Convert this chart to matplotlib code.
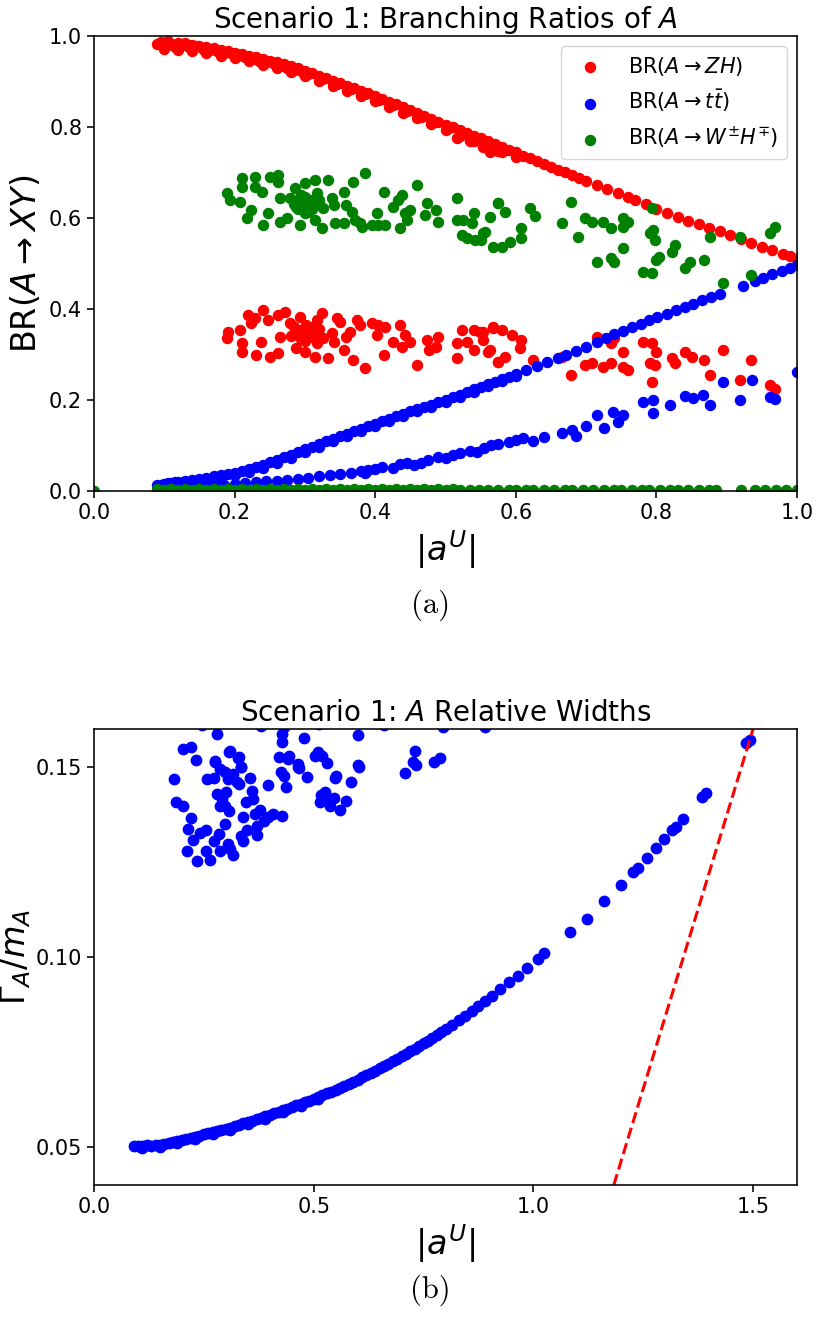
import matplotlib
matplotlib.use("Agg")
import matplotlib.pyplot as plt
import numpy as np

# ---- panel (a): branching ratios ----
zh_main = [
    (0.090, 0.982), (0.095, 0.986), (0.100, 0.979), (0.105, 0.988), (0.110, 0.983), (0.115, 0.976),
    (0.120, 0.985), (0.125, 0.980), (0.130, 0.984), (0.135, 0.975), (0.140, 0.981), (0.145, 0.977),
    (0.150, 0.978), (0.155, 0.972), (0.160, 0.975), (0.165, 0.970), (0.170, 0.973), (0.175, 0.966),
    (0.180, 0.970), (0.185, 0.963), (0.190, 0.967), (0.195, 0.962), (0.200, 0.963), (0.205, 0.957),
    (0.210, 0.960), (0.215, 0.953), (0.220, 0.956), (0.225, 0.950), (0.230, 0.953), (0.235, 0.946),
    (0.240, 0.950), (0.245, 0.942), (0.250, 0.946), (0.255, 0.940), (0.260, 0.942), (0.265, 0.934),
    (0.270, 0.938), (0.275, 0.930), (0.280, 0.933), (0.285, 0.926), (0.290, 0.929), (0.295, 0.922),
    (0.300, 0.924), (0.305, 0.917), (0.310, 0.919), (0.320, 0.912), (0.325, 0.906), (0.330, 0.908),
    (0.340, 0.902), (0.345, 0.895), (0.350, 0.897), (0.360, 0.890), (0.365, 0.884), (0.370, 0.886),
    (0.380, 0.879), (0.385, 0.872), (0.390, 0.874), (0.400, 0.867), (0.405, 0.860), (0.410, 0.862),
    (0.420, 0.855), (0.425, 0.848), (0.430, 0.850), (0.440, 0.843), (0.445, 0.836), (0.450, 0.837),
    (0.460, 0.830), (0.465, 0.823), (0.470, 0.824), (0.480, 0.818), (0.485, 0.811), (0.490, 0.812),
    (0.500, 0.805), (0.505, 0.798), (0.510, 0.799), (0.520, 0.793), (0.525, 0.786), (0.530, 0.787),
    (0.540, 0.781), (0.545, 0.774), (0.550, 0.775), (0.560, 0.769), (0.565, 0.762), (0.570, 0.762),
    (0.580, 0.756), (0.585, 0.749), (0.590, 0.750), (0.600, 0.744), (0.610, 0.737), (0.620, 0.731),
    (0.630, 0.725), (0.640, 0.718), (0.650, 0.712), (0.660, 0.706), (0.670, 0.700), (0.680, 0.694),
    (0.690, 0.688), (0.700, 0.682), (0.715, 0.673), (0.730, 0.664), (0.745, 0.655), (0.760, 0.645),
    (0.770, 0.639), (0.785, 0.630), (0.800, 0.620), (0.815, 0.611), (0.830, 0.602), (0.845, 0.594),
    (0.860, 0.587), (0.875, 0.579), (0.890, 0.571), (0.905, 0.562), (0.920, 0.553), (0.935, 0.545),
    (0.950, 0.537), (0.965, 0.529), (0.980, 0.521), (0.990, 0.516), (1.000, 0.510),
    (0.516, 0.775), (0.535, 0.770), (0.553, 0.757), (0.563, 0.745), (0.575, 0.748),
]
zh_edge = [
    (0.100, 0.972), (0.120, 0.970), (0.140, 0.967), (0.160, 0.963), (0.180, 0.957), (0.200, 0.951),
    (0.220, 0.944), (0.240, 0.937), (0.260, 0.929), (0.280, 0.921), (0.300, 0.912), (0.320, 0.902),
    (0.340, 0.891), (0.360, 0.879), (0.380, 0.868), (0.400, 0.856), (0.420, 0.844), (0.440, 0.831),
    (0.460, 0.819), (0.480, 0.806), (0.500, 0.793), (0.520, 0.781), (0.540, 0.769), (0.560, 0.757),
    (0.580, 0.745), (0.600, 0.733),
]
zh_low = [
    (0.191, 0.350), (0.189, 0.336), (0.208, 0.354), (0.210, 0.325), (0.210, 0.306), (0.219, 0.387),
    (0.224, 0.369), (0.229, 0.380), (0.231, 0.299), (0.238, 0.328), (0.241, 0.398), (0.248, 0.376),
    (0.250, 0.295), (0.262, 0.303), (0.265, 0.339), (0.262, 0.387), (0.272, 0.394), (0.279, 0.369),
    (0.286, 0.350), (0.288, 0.314), (0.293, 0.383), (0.295, 0.354), (0.302, 0.365), (0.300, 0.306),
    (0.307, 0.339), (0.312, 0.354), (0.314, 0.295), (0.317, 0.376), (0.317, 0.325), (0.324, 0.391),
    (0.326, 0.336), (0.333, 0.292), (0.338, 0.347), (0.341, 0.328), (0.345, 0.380), (0.350, 0.372),
    (0.355, 0.310), (0.359, 0.339), (0.364, 0.350), (0.369, 0.288), (0.374, 0.376), (0.378, 0.365),
    (0.385, 0.270), (0.395, 0.369), (0.402, 0.343), (0.404, 0.365), (0.412, 0.299), (0.414, 0.361),
    (0.426, 0.328), (0.435, 0.365), (0.438, 0.317), (0.442, 0.343), (0.450, 0.328), (0.459, 0.277),
    (0.473, 0.332), (0.476, 0.310), (0.487, 0.317), (0.490, 0.339), (0.516, 0.325), (0.516, 0.292),
    (0.523, 0.354), (0.530, 0.328), (0.540, 0.310), (0.540, 0.354), (0.549, 0.350), (0.554, 0.332),
    (0.563, 0.310), (0.568, 0.358), (0.575, 0.284), (0.285, 0.360), (0.290, 0.345), (0.300, 0.350),
    (0.305, 0.345), (0.310, 0.360), (0.295, 0.335), (0.300, 0.330), (0.315, 0.340), (0.320, 0.355),
    (0.280, 0.340), (0.554, 0.350), (0.568, 0.361), (0.580, 0.354), (0.594, 0.343), (0.608, 0.332),
    (0.606, 0.314), (0.561, 0.306), (0.575, 0.284), (0.585, 0.295), (0.625, 0.288), (0.665, 0.295),
    (0.679, 0.255), (0.698, 0.277), (0.708, 0.281), (0.715, 0.339), (0.724, 0.273), (0.736, 0.281),
    (0.736, 0.325), (0.739, 0.336), (0.753, 0.306), (0.753, 0.273), (0.760, 0.266), (0.781, 0.328),
    (0.793, 0.325), (0.800, 0.306), (0.791, 0.281), (0.793, 0.240), (0.798, 0.277), (0.822, 0.292),
    (0.826, 0.281), (0.841, 0.306), (0.850, 0.295), (0.867, 0.288), (0.876, 0.255), (0.895, 0.310),
    (0.919, 0.244), (0.935, 0.288), (0.962, 0.233), (0.969, 0.224),
]
tt_main = [
    (0.090, 0.013), (0.095, 0.014), (0.100, 0.016), (0.105, 0.017), (0.110, 0.018), (0.115, 0.019),
    (0.120, 0.020), (0.130, 0.022), (0.140, 0.024), (0.150, 0.027), (0.160, 0.029), (0.170, 0.032),
    (0.180, 0.034), (0.190, 0.037), (0.200, 0.040), (0.210, 0.044), (0.220, 0.048), (0.230, 0.052),
    (0.240, 0.057), (0.250, 0.063), (0.260, 0.068), (0.270, 0.074), (0.280, 0.080), (0.290, 0.086),
    (0.300, 0.092), (0.310, 0.097), (0.320, 0.103), (0.330, 0.109), (0.340, 0.114), (0.350, 0.120),
    (0.360, 0.126), (0.370, 0.131), (0.380, 0.137), (0.390, 0.142), (0.400, 0.148), (0.410, 0.153),
    (0.420, 0.159), (0.430, 0.164), (0.440, 0.170), (0.450, 0.175), (0.460, 0.180), (0.470, 0.185),
    (0.480, 0.190), (0.490, 0.195), (0.500, 0.200), (0.510, 0.206), (0.520, 0.211), (0.530, 0.217),
    (0.540, 0.223), (0.550, 0.229), (0.560, 0.235), (0.570, 0.240), (0.580, 0.246), (0.590, 0.251),
    (0.600, 0.257), (0.615, 0.266), (0.630, 0.274), (0.645, 0.283), (0.660, 0.292), (0.672, 0.298),
    (0.685, 0.307), (0.700, 0.317), (0.715, 0.327), (0.728, 0.336), (0.740, 0.344), (0.752, 0.351),
    (0.765, 0.360), (0.778, 0.367), (0.790, 0.375), (0.801, 0.382), (0.815, 0.390), (0.828, 0.398),
    (0.840, 0.405), (0.852, 0.412), (0.865, 0.419), (0.878, 0.426), (0.890, 0.432), (0.923, 0.450),
    (0.940, 0.461), (0.952, 0.468), (0.965, 0.476), (0.978, 0.484), (0.990, 0.491), (1.000, 0.497),
]
tt_edge = [
    (0.100, 0.010), (0.120, 0.014), (0.140, 0.019), (0.160, 0.024), (0.180, 0.029), (0.200, 0.034),
    (0.220, 0.041), (0.240, 0.050), (0.260, 0.061), (0.280, 0.073), (0.300, 0.085), (0.320, 0.097),
    (0.340, 0.109), (0.360, 0.120), (0.380, 0.131), (0.400, 0.142), (0.420, 0.153), (0.440, 0.164),
    (0.460, 0.175), (0.480, 0.185), (0.500, 0.195), (0.520, 0.206), (0.540, 0.218), (0.560, 0.230),
    (0.580, 0.241), (0.600, 0.252),
]
tt_low = [
    (0.095, 0.005), (0.110, 0.006), (0.125, 0.008), (0.140, 0.009), (0.155, 0.011), (0.170, 0.012),
    (0.185, 0.014), (0.200, 0.016), (0.215, 0.017), (0.230, 0.019), (0.245, 0.021), (0.260, 0.022),
    (0.275, 0.025), (0.290, 0.027), (0.305, 0.029), (0.320, 0.032), (0.335, 0.035), (0.350, 0.037),
    (0.365, 0.040), (0.380, 0.043), (0.390, 0.046), (0.385, 0.040), (0.400, 0.048), (0.410, 0.052),
    (0.425, 0.050), (0.435, 0.060), (0.445, 0.062), (0.455, 0.057), (0.465, 0.062), (0.475, 0.068),
    (0.490, 0.075), (0.500, 0.072), (0.510, 0.078), (0.520, 0.083), (0.535, 0.088), (0.545, 0.085),
    (0.555, 0.095), (0.565, 0.100), (0.575, 0.104), (0.590, 0.108), (0.600, 0.112), (0.610, 0.116),
    (0.625, 0.109), (0.640, 0.118), (0.665, 0.127), (0.680, 0.135), (0.685, 0.120), (0.700, 0.143),
    (0.715, 0.167), (0.725, 0.138), (0.738, 0.174), (0.752, 0.167), (0.745, 0.152), (0.781, 0.196),
    (0.795, 0.200), (0.795, 0.171), (0.819, 0.189), (0.841, 0.209), (0.852, 0.204), (0.866, 0.211),
    (0.876, 0.189), (0.895, 0.240), (0.919, 0.200), (0.936, 0.244), (0.962, 0.207), (0.969, 0.202),
    (1.000, 0.261),
]
wh_high = [
    (0.189, 0.654), (0.193, 0.640), (0.208, 0.636), (0.210, 0.687), (0.210, 0.669), (0.217, 0.599),
    (0.224, 0.618), (0.229, 0.691), (0.229, 0.669), (0.239, 0.658), (0.241, 0.585), (0.248, 0.610),
    (0.250, 0.691), (0.262, 0.695), (0.262, 0.680), (0.265, 0.643), (0.265, 0.592), (0.274, 0.599),
    (0.279, 0.643), (0.286, 0.665), (0.288, 0.625), (0.293, 0.585), (0.295, 0.651), (0.300, 0.676),
    (0.302, 0.632), (0.305, 0.614), (0.310, 0.640), (0.314, 0.684), (0.317, 0.654), (0.314, 0.596),
    (0.324, 0.577), (0.326, 0.621), (0.333, 0.684), (0.338, 0.643), (0.341, 0.629), (0.343, 0.588),
    (0.355, 0.588), (0.355, 0.658), (0.359, 0.629), (0.367, 0.614), (0.369, 0.680), (0.371, 0.596),
    (0.378, 0.588), (0.381, 0.581), (0.385, 0.698), (0.395, 0.585), (0.402, 0.610), (0.404, 0.585),
    (0.412, 0.658), (0.414, 0.585), (0.426, 0.625), (0.433, 0.640), (0.435, 0.577), (0.438, 0.651),
    (0.442, 0.610), (0.445, 0.596), (0.450, 0.618), (0.459, 0.673), (0.471, 0.607), (0.473, 0.632),
    (0.487, 0.618), (0.490, 0.592), (0.516, 0.643), (0.516, 0.596), (0.523, 0.563), (0.525, 0.596),
    (0.530, 0.555), (0.537, 0.588), (0.540, 0.610), (0.542, 0.552), (0.551, 0.552), (0.556, 0.570),
    (0.563, 0.603), (0.568, 0.537), (0.575, 0.632), (0.290, 0.640), (0.295, 0.630), (0.300, 0.645),
    (0.305, 0.625), (0.310, 0.620), (0.290, 0.620), (0.285, 0.630), (0.300, 0.610), (0.315, 0.635),
    (0.320, 0.640), (0.554, 0.566), (0.575, 0.632), (0.585, 0.614), (0.580, 0.537), (0.592, 0.548),
    (0.608, 0.577), (0.608, 0.555), (0.620, 0.621), (0.627, 0.604), (0.665, 0.588), (0.679, 0.636),
    (0.689, 0.559), (0.698, 0.599), (0.708, 0.592), (0.715, 0.504), (0.724, 0.592), (0.736, 0.577),
    (0.736, 0.511), (0.739, 0.504), (0.753, 0.599), (0.753, 0.581), (0.760, 0.592), (0.753, 0.533),
    (0.781, 0.482), (0.793, 0.478), (0.791, 0.566), (0.795, 0.574), (0.798, 0.552), (0.793, 0.621),
    (0.800, 0.508), (0.803, 0.515), (0.822, 0.526), (0.826, 0.541), (0.841, 0.489), (0.848, 0.504),
    (0.867, 0.508), (0.876, 0.559), (0.895, 0.456), (0.919, 0.559), (0.935, 0.475), (0.962, 0.566),
    (0.969, 0.581),
]
wh_zero_x = [0.0, 0.09, 0.10, 0.11, 0.12, 0.13, 0.14, 0.15, 0.16, 0.17, 0.18, 0.19, 0.20, 0.21, 0.22,
             0.23, 0.24, 0.25, 0.26, 0.27, 0.28, 0.29, 0.30, 0.31, 0.32, 0.33, 0.34, 0.35, 0.36, 0.37,
             0.38, 0.39, 0.40, 0.41, 0.42, 0.43, 0.44, 0.45, 0.46, 0.47, 0.48, 0.49, 0.50, 0.51, 0.52,
             0.535, 0.548, 0.56, 0.575, 0.59, 0.60, 0.615, 0.625, 0.64, 0.655, 0.67, 0.68, 0.695, 0.71,
             0.725, 0.74, 0.75, 0.765, 0.78, 0.79, 0.805, 0.82, 0.83, 0.845, 0.86, 0.875, 0.885, 0.92,
             0.94, 0.955, 0.97, 0.985, 1.0]
wh_zero_y = [0.0, 0.004, 0.003, 0.004, 0.003, 0.004, 0.003, 0.004, 0.003, 0.004, 0.003, 0.004, 0.003,
             0.004, 0.003, 0.004, 0.003, 0.004, 0.003, 0.004, 0.003, 0.004, 0.003, 0.004, 0.003, 0.004,
             0.003, 0.004, 0.003, 0.004, 0.003, 0.004, 0.003, 0.004, 0.003, 0.004, 0.003, 0.004, 0.003,
             0.004, 0.003, 0.004, 0.003, 0.004, 0.003, 0.003, 0.003, 0.003, 0.003, 0.003, 0.003, 0.003,
             0.003, 0.003, 0.003, 0.003, 0.003, 0.003, 0.003, 0.003, 0.003, 0.003, 0.003, 0.003, 0.003,
             0.003, 0.003, 0.003, 0.003, 0.003, 0.003, 0.003, 0.003, 0.003, 0.003, 0.003, 0.003, 0.003]

# ---- panel (b): relative widths ----
width_curve = [
    (0.090, 0.0502), (0.100, 0.0503), (0.110, 0.0502), (0.120, 0.0504), (0.130, 0.0503), (0.140, 0.0505),
    (0.150, 0.0506), (0.160, 0.0508), (0.170, 0.0510), (0.180, 0.0513), (0.190, 0.0516), (0.200, 0.0519),
    (0.210, 0.0521), (0.220, 0.0524), (0.230, 0.0527), (0.240, 0.0530), (0.250, 0.0533), (0.260, 0.0536),
    (0.270, 0.0539), (0.280, 0.0542), (0.290, 0.0545), (0.300, 0.0548), (0.310, 0.0551), (0.320, 0.0555),
    (0.330, 0.0558), (0.340, 0.0562), (0.350, 0.0566), (0.360, 0.0569), (0.370, 0.0573), (0.380, 0.0577),
    (0.390, 0.0581), (0.400, 0.0585), (0.410, 0.0589), (0.420, 0.0593), (0.430, 0.0597), (0.440, 0.0601),
    (0.450, 0.0605), (0.460, 0.0610), (0.470, 0.0614), (0.480, 0.0618), (0.490, 0.0622), (0.500, 0.0627),
    (0.510, 0.0632), (0.520, 0.0636), (0.530, 0.0641), (0.540, 0.0646), (0.550, 0.0651), (0.560, 0.0656),
    (0.570, 0.0661), (0.580, 0.0666), (0.590, 0.0672), (0.600, 0.0677), (0.610, 0.0683), (0.620, 0.0689),
    (0.630, 0.0695), (0.640, 0.0701), (0.650, 0.0707), (0.660, 0.0713), (0.670, 0.0719), (0.680, 0.0726),
    (0.690, 0.0732), (0.700, 0.0739), (0.710, 0.0745), (0.720, 0.0752), (0.730, 0.0759), (0.740, 0.0766),
    (0.750, 0.0773), (0.760, 0.0780), (0.770, 0.0788), (0.780, 0.0795), (0.790, 0.0803), (0.800, 0.0811),
    (0.815, 0.0822), (0.830, 0.0834), (0.845, 0.0846), (0.860, 0.0858), (0.875, 0.0871), (0.890, 0.0884),
    (0.905, 0.0897), (0.925, 0.0915), (0.945, 0.0933), (0.965, 0.0951), (0.985, 0.0970), (1.010, 0.0995),
    (1.025, 0.1010), (1.083, 0.1066), (1.122, 0.1100), (1.161, 0.1148), (1.199, 0.1190), (1.227, 0.1224),
    (1.238, 0.1234), (1.259, 0.1260), (1.279, 0.1287), (1.297, 0.1311), (1.316, 0.1334), (1.324, 0.1342),
    (1.340, 0.1363), (1.383, 0.1421), (1.392, 0.1432), (1.484, 0.1563), (1.493, 0.1571),
    (0.110, 0.0498), (0.150, 0.0501), (0.190, 0.0511), (0.230, 0.0521), (0.270, 0.0533), (0.310, 0.0545),
    (0.350, 0.0560), (0.390, 0.0575), (0.430, 0.0591), (0.470, 0.0608), (0.510, 0.0626),
]
width_cloud = [
    (0.279, 0.1587), (0.203, 0.1547), (0.220, 0.1552), (0.232, 0.1518), (0.182, 0.1468), (0.187, 0.1409),
    (0.202, 0.1397), (0.221, 0.1365), (0.215, 0.1337), (0.226, 0.1308), (0.211, 0.1280), (0.235, 0.1252),
    (0.241, 0.1326), (0.255, 0.1333), (0.258, 0.1468), (0.273, 0.1470), (0.276, 0.1517), (0.255, 0.1280),
    (0.264, 0.1256), (0.274, 0.1306), (0.287, 0.1280), (0.285, 0.1324), (0.287, 0.1495), (0.298, 0.1486),
    (0.306, 0.1468), (0.310, 0.1543), (0.317, 0.1482), (0.330, 0.1525), (0.335, 0.1499), (0.325, 0.1460),
    (0.329, 0.1455), (0.279, 0.1429), (0.291, 0.1416), (0.301, 0.1433), (0.297, 0.1398), (0.287, 0.1398),
    (0.308, 0.1385), (0.298, 0.1350), (0.306, 0.1297), (0.310, 0.1284), (0.317, 0.1268), (0.339, 0.1368),
    (0.346, 0.1407), (0.359, 0.1438), (0.361, 0.1416), (0.354, 0.1471), (0.334, 0.1319), (0.340, 0.1306),
    (0.349, 0.1333), (0.367, 0.1376), (0.377, 0.1388), (0.370, 0.1346), (0.370, 0.1321), (0.386, 0.1359),
    (0.397, 0.1368), (0.407, 0.1376), (0.428, 0.1372), (0.396, 0.1453), (0.421, 0.1525), (0.427, 0.1565),
    (0.427, 0.1587), (0.433, 0.1605), (0.443, 0.1530), (0.426, 0.1486), (0.433, 0.1477), (0.436, 0.1448),
    (0.465, 0.1508), (0.467, 0.1497), (0.479, 0.1576), (0.484, 0.1473), (0.509, 0.1539), (0.518, 0.1530),
    (0.530, 0.1511), (0.551, 0.1477), (0.549, 0.1470), (0.516, 0.1425), (0.526, 0.1433), (0.530, 0.1411),
    (0.537, 0.1397), (0.515, 0.1407), (0.547, 0.1418), (0.560, 0.1387), (0.574, 0.1410), (0.584, 0.1460),
    (0.600, 0.1584), (0.601, 0.1504), (0.708, 0.1483), (0.727, 0.1512), (0.732, 0.1504), (0.730, 0.1543),
    (0.774, 0.1512), (0.788, 0.1524), (0.794, 0.1605), (0.889, 0.1605), (0.275, 0.1513), (0.307, 0.1540),
    (0.328, 0.1524), (0.334, 0.1500), (0.441, 0.1520), (0.465, 0.1500), (0.503, 0.1530), (0.603, 0.1500),
    (0.246, 0.1610), (0.380, 0.1608), (0.512, 0.1612), (0.660, 0.1610),
]
line_x = [1.183, 1.500]
line_y = [0.040, 0.160]

# scale defaults a bit so the sizes match the picture
plt.rcParams.update({
    'axes.linewidth': 1.15,
    'xtick.major.width': 1.15,
    'ytick.major.width': 1.15,
    'xtick.major.size': 5,
    'ytick.major.size': 5,
    'xtick.labelsize': 15,
    'ytick.labelsize': 15,
})

fig = plt.figure(figsize=(8.21, 13.18), dpi=100)
ax1 = fig.add_axes([0.1145, 0.6275, 0.8563, 0.3452])
ax2 = fig.add_axes([0.1145, 0.1009, 0.8563, 0.3460])

zh = np.array(zh_main + zh_edge + zh_low)
tt = np.array(tt_main + tt_edge + tt_low)
wh = np.array(wh_high)
wh_x = np.concatenate([wh[:, 0], wh_zero_x])
wh_y = np.concatenate([wh[:, 1], wh_zero_y])

ms = 52
ax1.scatter(zh[:, 0], zh[:, 1], s=ms, c='r', label=r'BR($A\rightarrow ZH$)')
ax1.scatter(tt[:, 0], tt[:, 1], s=ms, c='b', label=r'BR($A\rightarrow t\bar{t}$)')
ax1.scatter(wh_x, wh_y, s=ms, c='g', label=r'BR($A\rightarrow W^{\pm}H^{\mp}$)')
ax1.set_xlim(0, 1)
ax1.set_ylim(0, 1)
ax1.set_title(r'Scenario 1: Branching Ratios of $A$', fontsize=20)
ax1.set_xlabel(r'$|a^U|$', fontsize=24)
ax1.set_ylabel(r'BR($A\rightarrow XY$)', fontsize=24)
ax1.legend(loc='upper right', fontsize=15, scatterpoints=1)

wc = np.array(width_curve)
wcl = np.array(width_cloud)
ax2.scatter(wc[:, 0], wc[:, 1], s=56, c='b')
ax2.scatter(wcl[:, 0], wcl[:, 1], s=56, c='b')
ax2.plot(line_x, line_y, 'r--', lw=2.2)
ax2.set_xlim(0, 1.6)
ax2.set_ylim(0.04, 0.16)
ax2.set_xticks([0.0, 0.5, 1.0, 1.5])
ax2.set_yticks([0.05, 0.10, 0.15])
ax2.set_title(r'Scenario 1: $A$ Relative Widths', fontsize=20)
ax2.set_xlabel(r'$|a^U|$', fontsize=24)
ax2.set_ylabel(r'$\Gamma_A/m_A$', fontsize=24, labelpad=2)

fig.text(0.524, 0.541, '(a)', fontfamily='cmr10', fontsize=22, ha='center', va='center')
fig.text(0.524, 0.021, '(b)', fontfamily='cmr10', fontsize=22, ha='center', va='center')

fig.savefig('out.png', dpi=100)
